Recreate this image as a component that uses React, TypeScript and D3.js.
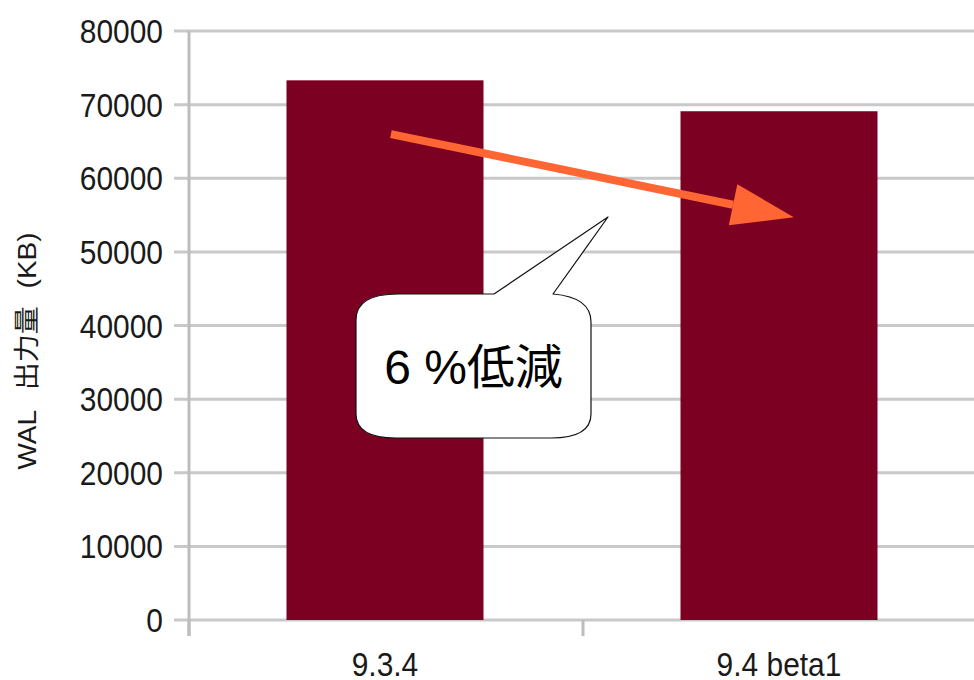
import React from "react";
import * as d3 from "d3";

// WAL output volume per PostgreSQL version
const versions = ["9.3.4", "9.4 beta1"];
const walKB = [73300, 69100];
const yTicks = [0, 10000, 20000, 30000, 40000, 50000, 60000, 70000, 80000];
const yTitleParts = ["WAL", "出力量", "(KB)"];
const calloutText = "6 %低減";

const W = 974;
const H = 680;
const plot = { left: 188, right: 976, top: 31, bottom: 620 };

const LATIN = "'Liberation Sans', Arial, sans-serif";
const CJK = "'Liberation Sans', 'Noto Sans CJK JP', sans-serif";

export default function App() {
  const x = d3
    .scaleBand<string>()
    .domain(versions)
    .range([plot.left, plot.right])
    .paddingInner(0.5)
    .paddingOuter(0.25);
  const y = d3.scaleLinear().domain([0, 80000]).range([plot.bottom, plot.top]);

  const step = x.step();
  const bw = x.bandwidth();

  // orange trend arrow, anchored in data space
  const ax0 = (x(versions[0]) as number) + bw * 0.53;
  const ay0 = y(66000);
  const ax1 = (x(versions[1]) as number) + bw * 0.575;
  const ay1 = y(54700);
  const ang = Math.atan2(ay1 - ay0, ax1 - ax0);
  const headLen = 62;
  const headHalf = 21;
  const bx = ax1 - headLen * Math.cos(ang);
  const by = ay1 - headLen * Math.sin(ang);
  const nx = -Math.sin(ang);
  const ny = Math.cos(ang);
  const head = [
    [ax1, ay1],
    [bx + nx * headHalf, by + ny * headHalf],
    [bx - nx * headHalf, by - ny * headHalf],
  ];

  // speech-bubble callout
  const c = { l: 356, r: 591, t: 294, b: 438 };
  const tip = [608, 217];
  const calloutPath = [
    `M ${c.l},${c.t + 26}`,
    `C ${c.l},${c.t + 6} ${c.l + 18},${c.t} ${c.l + 42},${c.t}`,
    `L 494,${c.t}`,
    `L ${tip[0]},${tip[1]}`,
    `L 553,${c.t}`,
    `C ${c.r - 14},${c.t + 2} ${c.r},${c.t + 10} ${c.r},${c.t + 28}`,
    `L ${c.r},${c.b - 24}`,
    `C ${c.r},${c.b - 6} ${c.r - 16},${c.b} ${c.r - 40},${c.b}`,
    `L ${c.l + 40},${c.b}`,
    `C ${c.l + 16},${c.b} ${c.l},${c.b - 6} ${c.l},${c.b - 24}`,
    "Z",
  ].join(" ");

  const xTicks = d3.range(versions.length + 1).map((i) => plot.left + i * step);

  return (
    <svg
      width={W}
      height={H}
      style={{ position: "absolute", left: 0, top: 0, background: "#fff" }}
    >
      {/* horizontal gridlines */}
      {yTicks.map((t) => (
        <line
          key={"g" + t}
          x1={174}
          x2={W}
          y1={y(t)}
          y2={y(t)}
          stroke="#c9c9c9"
          strokeWidth={3}
        />
      ))}
      {/* value axis line */}
      <line x1={plot.left + 1} x2={plot.left + 1} y1={plot.top} y2={636} stroke="#bdbdbd" strokeWidth={3} />
      {/* category ticks */}
      {xTicks.map((tx, i) => (
        <line key={"xt" + i} x1={tx + 1} x2={tx + 1} y1={plot.bottom} y2={636} stroke="#bdbdbd" strokeWidth={3} />
      ))}

      {/* bars */}
      {versions.map((v, i) => (
        <rect
          key={v}
          x={x(v)}
          y={y(walKB[i])}
          width={bw}
          height={y(0) - y(walKB[i])}
          fill="#7b0021"
        />
      ))}

      {/* y tick labels */}
      {yTicks.map((t) => (
        <text
          key={"yl" + t}
          transform={`translate(163,${y(t) + 12}) scale(0.88,1)`}
          textAnchor="end"
          fontFamily={LATIN}
          fontSize={34}
          fill="#1a1a1a"
        >
          {t}
        </text>
      ))}

      {/* category labels */}
      {versions.map((v) => (
        <text
          key={"xl" + v}
          transform={`translate(${(x(v) as number) + bw / 2},676) scale(0.88,1)`}
          textAnchor="middle"
          fontFamily={LATIN}
          fontSize={34}
          fill="#1a1a1a"
        >
          {v}
        </text>
      ))}

      {/* y axis title */}
      <text
        transform={`translate(36,351) rotate(-90) scale(1,0.92)`}
        textAnchor="middle"
        fontFamily={CJK}
        fontSize={28}
        fill="#1a1a1a"
      >
        <tspan>{yTitleParts[0]}</tspan>
        <tspan dx={12}>{" " + yTitleParts[1]}</tspan>
        <tspan dx={10}>{" " + yTitleParts[2]}</tspan>
      </text>

      {/* arrow */}
      <line
        x1={ax0}
        y1={ay0}
        x2={bx}
        y2={by}
        stroke="#ff6633"
        strokeWidth={8}
      />
      <polygon points={head.map((p) => p.join(",")).join(" ")} fill="#ff6633" />

      {/* callout */}
      <path d={calloutPath} fill="#fff" stroke="#111" strokeWidth={1.2} strokeLinejoin="round" />
      <text
        x={(c.l + c.r) / 2}
        y={384}
        textAnchor="middle"
        fontFamily={CJK}
        fontSize={48}
        fill="#000"
      >
        {calloutText}
      </text>
    </svg>
  );
}
